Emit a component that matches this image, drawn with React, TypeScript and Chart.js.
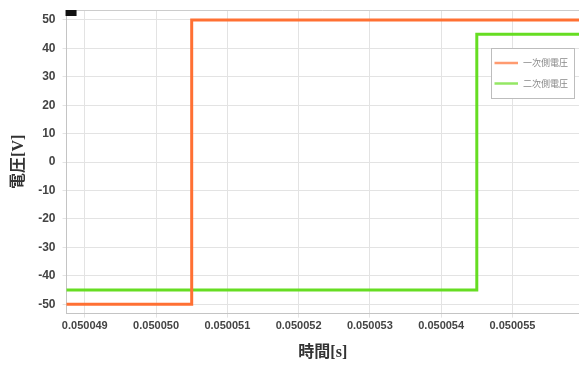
import React, { useEffect, useRef } from "react";
import { Chart, registerables } from "chart.js";

Chart.register(...registerables);

// ---- data ----
const seriesLabels = ["一次側電圧", "二次側電圧"];
const seriesColors = ["#ff7033", "#66dd22"];
const primaryTimes = [0.0500487, 0.0500505, 0.0500505, 0.050056];
const primaryVolts = [-50, -50, 50, 50];
const secondaryTimes = [0.0500487, 0.0500545, 0.0500545, 0.050056];
const secondaryVolts = [-45, -45, 45, 45];
const xTickValues = [0.050049, 0.05005, 0.050051, 0.050052, 0.050053, 0.050054, 0.050055];
const yTickValues = [-50, -40, -30, -20, -10, 0, 10, 20, 30, 40, 50];
const xMin = 0.050048744;
const xMax = 0.050055934;
const yMin = -53.3;
const yMax = 53.5;
const xTitle = "時間[s]";
const yTitle = "電圧[V]";

const decorPlugin = {
  id: "decor",
  afterDraw(chart: any) {
    const { ctx, chartArea } = chart;
    const { left, right, top } = chartArea;
    ctx.save();
    // top border
    ctx.strokeStyle = "#cccccc";
    ctx.lineWidth = 1;
    ctx.beginPath();
    ctx.moveTo(left, top + 0.5);
    ctx.lineTo(right, top + 0.5);
    ctx.stroke();
    // small black marker at top-left
    ctx.fillStyle = "#111111";
    ctx.fillRect(left - 1, top, 11, 6);
    // legend box
    const bw = 83;
    const bh = 50;
    const bx = right - 5 - bw;
    const by = top + 38;
    ctx.fillStyle = "#ffffff";
    ctx.fillRect(bx, by, bw, bh);
    ctx.strokeStyle = "#bdbdbd";
    ctx.strokeRect(bx + 0.5, by + 0.5, bw, bh);
    ctx.font = "9px 'Noto Sans CJK JP'";
    ctx.textBaseline = "middle";
    ctx.textAlign = "left";
    chart.data.datasets.forEach((ds: any, i: number) => {
      const ly = by + 15 + i * 20.5;
      ctx.globalAlpha = 0.7;
      ctx.strokeStyle = ds.borderColor;
      ctx.lineWidth = 2.5;
      ctx.beginPath();
      ctx.moveTo(bx + 3.5, ly);
      ctx.lineTo(bx + 27, ly);
      ctx.stroke();
      ctx.globalAlpha = 1;
      ctx.fillStyle = "#8a8a8a";
      ctx.fillText(ds.label, bx + 32, ly);
    });
    ctx.restore();
  },
};

export default function App() {
  const canvasRef = useRef<HTMLCanvasElement | null>(null);

  useEffect(() => {
    document.body.style.margin = "0";
    const canvas = canvasRef.current;
    if (!canvas) return;
    const toPoints = (xs: number[], ys: number[]) => xs.map((x, i) => ({ x, y: ys[i] }));
    const chart = new Chart(canvas, {
      type: "line",
      data: {
        datasets: [
          {
            label: seriesLabels[0],
            data: toPoints(primaryTimes, primaryVolts),
            borderColor: seriesColors[0],
            backgroundColor: seriesColors[0],
            borderWidth: 3,
            pointRadius: 0,
            tension: 0,
            fill: false,
          },
          {
            label: seriesLabels[1],
            data: toPoints(secondaryTimes, secondaryVolts),
            borderColor: seriesColors[1],
            backgroundColor: seriesColors[1],
            borderWidth: 3,
            pointRadius: 0,
            tension: 0,
            fill: false,
          },
        ],
      },
      options: {
        responsive: false,
        animation: false,
        layout: { padding: { left: 0, right: 0, top: 10, bottom: 0 } },
        plugins: {
          legend: { display: false },
          tooltip: { enabled: false },
        },
        scales: {
          x: {
            type: "linear",
            min: xMin,
            max: xMax,
            afterBuildTicks: (scale: any) => {
              scale.ticks = xTickValues.map((v) => ({ value: v }));
            },
            ticks: {
              autoSkip: false,
              maxRotation: 0,
              padding: 2,
              color: "#444444",
              font: { family: "'Liberation Sans', Arial, sans-serif", size: 11, weight: "bold" },
              callback: (v: any) => Number(v).toFixed(6),
            },
            grid: { color: "#e3e3e3", tickLength: 4 },
            border: { color: "#c4c4c4" },
            title: {
              display: true,
              text: xTitle,
              color: "#333333",
              font: { family: "'Liberation Serif', 'Noto Sans CJK JP', serif", size: 16, weight: "bold" },
              padding: { top: 8, bottom: 3 },
            },
          },
          y: {
            type: "linear",
            min: yMin,
            max: yMax,
            afterBuildTicks: (scale: any) => {
              scale.ticks = yTickValues.map((v) => ({ value: v }));
            },
            afterFit: (scale: any) => {
              scale.paddingTop = 0;
              scale.paddingBottom = 0;
            },
            ticks: {
              padding: 7,
              color: "#444444",
              font: { family: "'Liberation Sans', Arial, sans-serif", size: 12, weight: "bold" },
            },
            grid: { color: "#e3e3e3", tickLength: 4 },
            border: { color: "#c4c4c4" },
            title: {
              display: true,
              text: yTitle,
              color: "#333333",
              font: { family: "'Liberation Serif', 'Noto Sans CJK JP', serif", size: 16, weight: "bold" },
              padding: { top: 9, bottom: 3 },
            },
          },
        },
      },
      plugins: [decorPlugin],
    } as any);
    return () => chart.destroy();
  }, []);

  return (
    <div style={{ width: 579, height: 365 }}>
      <canvas ref={canvasRef} width={579} height={365} />
    </div>
  );
}
